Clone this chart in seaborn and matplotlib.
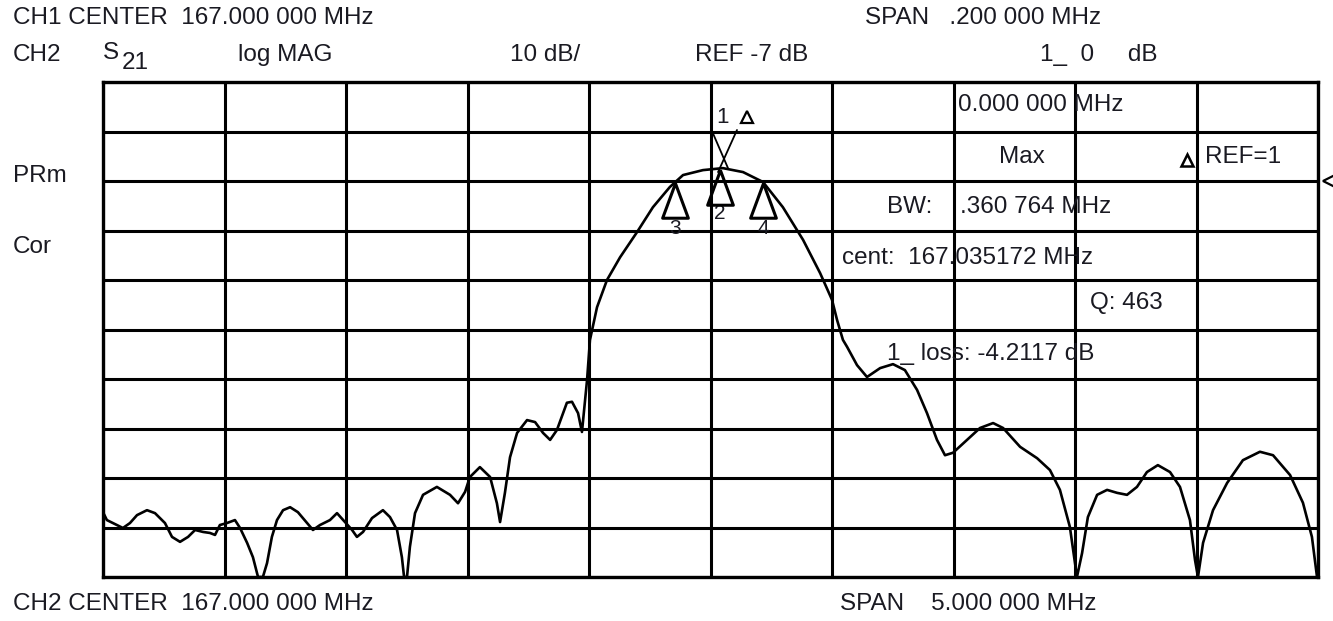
import numpy as np
import pandas as pd
import matplotlib
matplotlib.use("Agg")
import matplotlib.pyplot as plt
import seaborn as sns

# S21 trace, CH2 (center 167 MHz, span 5 MHz), log MAG 10 dB/div, REF -7 dB
freq_mhz = [
    164.500, 164.516, 164.541, 164.582, 164.611, 164.640, 164.681, 164.714, 164.755, 164.784,
    164.817, 164.850, 164.879, 164.912, 164.940, 164.961, 164.981, 165.010, 165.043, 165.064,
    165.093, 165.117, 165.138, 165.158, 165.175, 165.195, 165.216, 165.241, 165.270, 165.302,
    165.340, 165.364, 165.393, 165.434, 165.463, 165.496, 165.525, 165.545, 165.570, 165.607,
    165.652, 165.681, 165.710, 165.730, 165.739, 165.751, 165.763, 165.784, 165.817, 165.874,
    165.928, 165.961, 165.990, 166.010, 166.051, 166.093, 166.121, 166.134, 166.154, 166.175,
    166.204, 166.245, 166.278, 166.311, 166.340, 166.368, 166.409, 166.430, 166.455, 166.471,
    166.484, 166.492, 166.504, 166.533, 166.574, 166.628, 166.698, 166.763, 166.833, 166.887,
    166.969, 167.051, 167.134, 167.216, 167.298, 167.381, 167.451, 167.500, 167.521, 167.545,
    167.562, 167.603, 167.644, 167.698, 167.751, 167.800, 167.850, 167.891, 167.932, 167.965,
    167.998, 168.056, 168.109, 168.163, 168.204, 168.274, 168.344, 168.397, 168.438, 168.479,
    168.508, 168.529, 168.553, 168.591, 168.632, 168.673, 168.714, 168.755, 168.796, 168.841,
    168.891, 168.932, 168.973, 168.994, 169.006, 169.027, 169.068, 169.126, 169.191, 169.261,
    169.315, 169.385, 169.438, 169.475, 169.496,
]
s21_db = [
    -73.9, -75.5, -76.1, -77.1, -76.1, -74.5, -73.5, -74.1, -76.1, -78.9,
    -79.9, -78.9, -77.5, -77.9, -78.1, -78.5, -76.5, -76.1, -75.5, -77.1,
    -80.1, -83.0, -87.0, -87.0, -84.2, -78.9, -75.5, -73.5, -72.9, -73.9,
    -76.1, -77.5, -76.5, -75.5, -74.1, -75.9, -77.5, -78.9, -77.9, -75.1,
    -73.5, -74.9, -77.5, -83.0, -87.0, -87.0, -80.9, -74.1, -70.4, -68.8,
    -70.4, -72.1, -69.8, -66.8, -64.8, -66.8, -72.1, -75.9, -70.0, -62.8,
    -57.9, -55.3, -55.7, -57.9, -59.3, -57.3, -51.8, -51.6, -53.9, -57.7,
    -51.2, -47.2, -39.1, -32.5, -27.0, -22.4, -17.3, -12.3, -8.2, -5.8,
    -4.8, -4.4, -5.2, -7.2, -12.3, -18.9, -25.6, -31.0, -35.1, -39.1,
    -40.5, -44.2, -46.6, -44.8, -44.0, -45.2, -49.2, -53.9, -59.3, -62.4,
    -61.9, -59.3, -56.9, -55.9, -56.9, -60.7, -63.0, -65.4, -69.4, -76.9,
    -87.0, -82.2, -74.9, -70.4, -69.4, -70.0, -70.4, -68.8, -65.8, -64.4,
    -65.8, -68.8, -75.5, -83.6, -87.0, -80.1, -73.5, -68.0, -63.4, -61.7,
    -62.4, -66.4, -72.0, -78.9, -87.0,
]

# bandwidth markers (3 = lower edge, 2 = center, 4 = upper edge)
marker_labels = ["3", "2", "4"]
marker_freq = [166.854, 167.039, 167.216]
marker_db = [-7.4, -4.8, -7.4]

ref_db = -7
db_per_div = 10
center_mhz = 167.0
span_mhz = 5.0

W, H = 1333, 621
TXT = "#1a1a22"


def main():
    sns.set_style("white")
    plt.rcParams["font.family"] = ["Liberation Sans", "DejaVu Sans"]

    fig = plt.figure(figsize=(W / 100, H / 100), dpi=100)
    ax = fig.add_axes([103 / W, 1 - 577 / H, 1215 / W, 495 / H])

    data = pd.DataFrame({"freq": freq_mhz, "db": s21_db})
    sns.lineplot(data=data, x="freq", y="db", ax=ax, color="black",
                 linewidth=1.9, legend=False, zorder=4)

    x0 = center_mhz - span_mhz / 2
    x1 = center_mhz + span_mhz / 2
    top = ref_db + 2 * db_per_div
    bottom = ref_db - 8 * db_per_div
    ax.set_xlim(x0, x1)
    ax.set_ylim(bottom, top)
    ax.set_xticks(np.linspace(x0, x1, 11))
    ax.set_yticks(np.linspace(bottom, top, 11))
    ax.grid(True, color="black", linewidth=2.2)
    ax.tick_params(length=0, labelbottom=False, labelleft=False)
    ax.set_xlabel("")
    ax.set_ylabel("")
    for sp in ax.spines.values():
        sp.set_color("black")
        sp.set_linewidth(2.4)

    # bandwidth markers: open triangles with apex on the trace
    tri = [(0, 0), (-0.37, -1), (0.37, -1), (0, 0)]
    ax.plot(marker_freq, marker_db, linestyle="none", marker=tri, markersize=50,
            markerfacecolor="none", markeredgecolor="black", markeredgewidth=2.2,
            zorder=5)
    for lab, f, d in zip(marker_labels, marker_freq, marker_db):
        dy = -8.8 if lab == "2" else -9.2
        ax.text(f, d + dy, lab, ha="center", va="center", fontsize=15, color=TXT)

    # marker 1 (max) pointer
    ax.plot([167.006, 167.072], [3.1, -4.4], color="black", linewidth=1.3, zorder=5)
    ax.plot([167.109, 167.031], [3.3, -5.2], color="black", linewidth=1.3, zorder=5)
    ax.plot([167.150], [5.9], marker="^", markersize=8, markerfacecolor="white",
            markeredgecolor="black", markeredgewidth=1.6, zorder=5)
    ax.text(167.051, 5.9, "1", ha="center", va="center", fontsize=16, color=TXT)

    # reference position arrow on the right edge
    ax.plot([169.55], [ref_db], marker="<", markersize=10, markerfacecolor="white",
            markeredgecolor="black", markeredgewidth=1.6, clip_on=False, zorder=6)

    # marker readout inside the grid
    fs = 17.5
    ax.text(168.018, 8.4, "0.000 000 MHz", ha="left", va="center", fontsize=fs, color=TXT)
    ax.text(168.282, -2.2, "Max", ha="center", va="center", fontsize=fs, color=TXT)
    ax.plot([168.961], [-2.8], marker="^", markersize=8, markerfacecolor="white",
            markeredgecolor="black", markeredgewidth=1.8, zorder=5)
    ax.text(169.035, -2.2, "REF=1", ha="left", va="center", fontsize=fs, color=TXT)
    ax.text(167.726, -12.3, "BW:", ha="left", va="center", fontsize=fs, color=TXT)
    ax.text(168.027, -12.3, ".360 764 MHz", ha="left", va="center", fontsize=fs, color=TXT)
    ax.text(167.541, -22.6, "cent:  167.035172 MHz", ha="left", va="center", fontsize=fs, color=TXT)
    ax.text(168.562, -31.7, "Q: 463", ha="left", va="center", fontsize=fs, color=TXT)
    ax.text(167.726, -42.0, "1_ loss: -4.2117 dB", ha="left", va="center", fontsize=fs, color=TXT)

    # header / footer annotations
    def label(x, y, s, **kw):
        fig.text(x / W, 1 - y / H, s, ha="left", va="center", fontsize=fs, color=TXT, **kw)

    label(13, 18, "CH1 CENTER  167.000 000 MHz")
    label(865, 18, "SPAN   .200 000 MHz")
    label(13, 55, "CH2")
    label(103, 53, "S")
    label(122, 63, "21")
    label(238, 55, "log MAG")
    label(510, 55, "10 dB/")
    label(695, 55, "REF -7 dB")
    label(1040, 55, "1_  0     dB")
    label(13, 176, "PRm")
    label(13, 247, "Cor")
    label(13, 604, "CH2 CENTER  167.000 000 MHz")
    label(840, 604, "SPAN    5.000 000 MHz")

    fig.savefig("out.png", dpi=100, facecolor="white")


if __name__ == "__main__":
    main()
